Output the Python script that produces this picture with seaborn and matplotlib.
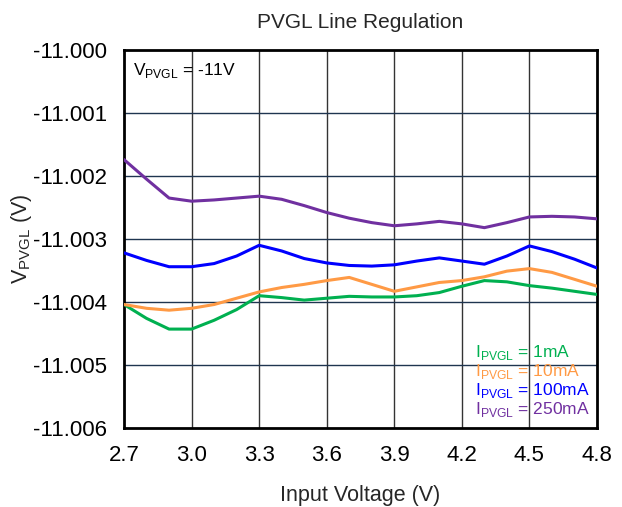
import matplotlib
matplotlib.use("Agg")
import matplotlib.pyplot as plt
import seaborn as sns
import pandas as pd
import numpy as np

vin = [2.7, 2.8, 2.9, 3.0, 3.1, 3.2, 3.3, 3.4, 3.5, 3.6, 3.7, 3.8, 3.9, 4.0,
       4.1, 4.2, 4.3, 4.4, 4.5, 4.6, 4.7, 4.8]
v_1mA = [-11.00404, -11.00426, -11.00443, -11.00443, -11.00429, -11.00412, -11.00390,
         -11.00393, -11.00397, -11.00394, -11.00391, -11.00392, -11.00392, -11.00390,
         -11.00385, -11.00375, -11.00366, -11.00368, -11.00374, -11.00378, -11.00383,
         -11.00388]
v_10mA = [-11.00404, -11.00410, -11.00413, -11.00410, -11.00404, -11.00394, -11.00384,
          -11.00377, -11.00372, -11.00366, -11.00361, -11.00372, -11.00383, -11.00376,
          -11.00369, -11.00366, -11.00360, -11.00351, -11.00347, -11.00353, -11.00364,
          -11.00375]
v_100mA = [-11.00322, -11.00334, -11.00344, -11.00344, -11.00339, -11.00327, -11.00310,
           -11.00319, -11.00331, -11.00338, -11.00342, -11.00343, -11.00341, -11.00335,
           -11.00330, -11.00335, -11.00340, -11.00327, -11.00311, -11.00320, -11.00332,
           -11.00346]
v_250mA = [-11.00174, -11.00205, -11.00235, -11.00240, -11.00238, -11.00235, -11.00232,
           -11.00237, -11.00247, -11.00258, -11.00267, -11.00274, -11.00279, -11.00276,
           -11.00272, -11.00276, -11.00282, -11.00274, -11.00265, -11.00264, -11.00265,
           -11.00268]
series_names = ["1mA", "10mA", "100mA", "250mA"]
series_colors = ["#00B050", "#FF9A45", "#0000FF", "#7030A0"]
x_ticks = [2.7, 3.0, 3.3, 3.6, 3.9, 4.2, 4.5, 4.8]
y_ticks = [-11.000, -11.001, -11.002, -11.003, -11.004, -11.005, -11.006]

df = pd.DataFrame({
    "vin": vin * 4,
    "vout": v_1mA + v_10mA + v_100mA + v_250mA,
    "load": sum([[n] * len(vin) for n in series_names], []),
})

sns.set_theme(style="white")
plt.rcParams["font.family"] = ["Liberation Sans", "DejaVu Sans"]
plt.rcParams["mathtext.fontset"] = "custom"
plt.rcParams["mathtext.rm"] = "Liberation Sans"

fig = plt.figure(figsize=(6.22, 5.07), dpi=100)
ax = fig.add_axes([0.1994, 0.1558, 0.7604, 0.7456])

sns.lineplot(data=df, x="vin", y="vout", hue="load", hue_order=series_names,
             palette=dict(zip(series_names, series_colors)), linewidth=2.2,
             legend=False, ax=ax, zorder=3)

ax.set_xlim(2.7, 4.8)
ax.set_ylim(-11.006, -11.000)
ax.set_xticks(x_ticks)
ax.set_xticklabels([f"{t:.1f}" for t in x_ticks], fontsize=16)
ax.set_yticks(y_ticks)
ax.set_yticklabels([f"{t:.3f}" for t in y_ticks], fontsize=16)
ax.tick_params(axis="y", length=0, pad=12, colors="black")
ax.tick_params(axis="x", length=0, pad=12, colors="black")

for t in x_ticks[1:-1]:
    ax.axvline(t, color="#333333", linewidth=1.0, zorder=1)
for t in y_ticks[1:-1]:
    ax.axhline(t, color="#1F3550", linewidth=1.0, zorder=1)

for side, sp in ax.spines.items():
    sp.set_visible(True)
    sp.set_color("black")
    sp.set_linewidth(2.0)

ax.set_title("PVGL Line Regulation", fontsize=15, pad=16)
ax.set_xlabel("Input Voltage (V)", fontsize=15.5, labelpad=14)
ax.set_ylabel(r"V$_{\mathregular{PVGL}}$ (V)", fontsize=15.5)
ax.yaxis.set_label_coords(-0.19, 0.5)

ax.text(0.018, 0.947, r"V$_{\mathregular{PVGL}}$ = -11V", transform=ax.transAxes,
        fontsize=12.5, va="center", ha="left", color="black")

for i, (n, c) in enumerate(zip(series_names, series_colors)):
    ax.text(0.742, 0.201 - i * 0.051, r"I$_{\mathregular{PVGL}}$ = " + n,
            transform=ax.transAxes, fontsize=12.5, color=c, va="center", ha="left")

fig.savefig("out.png", dpi=100)
